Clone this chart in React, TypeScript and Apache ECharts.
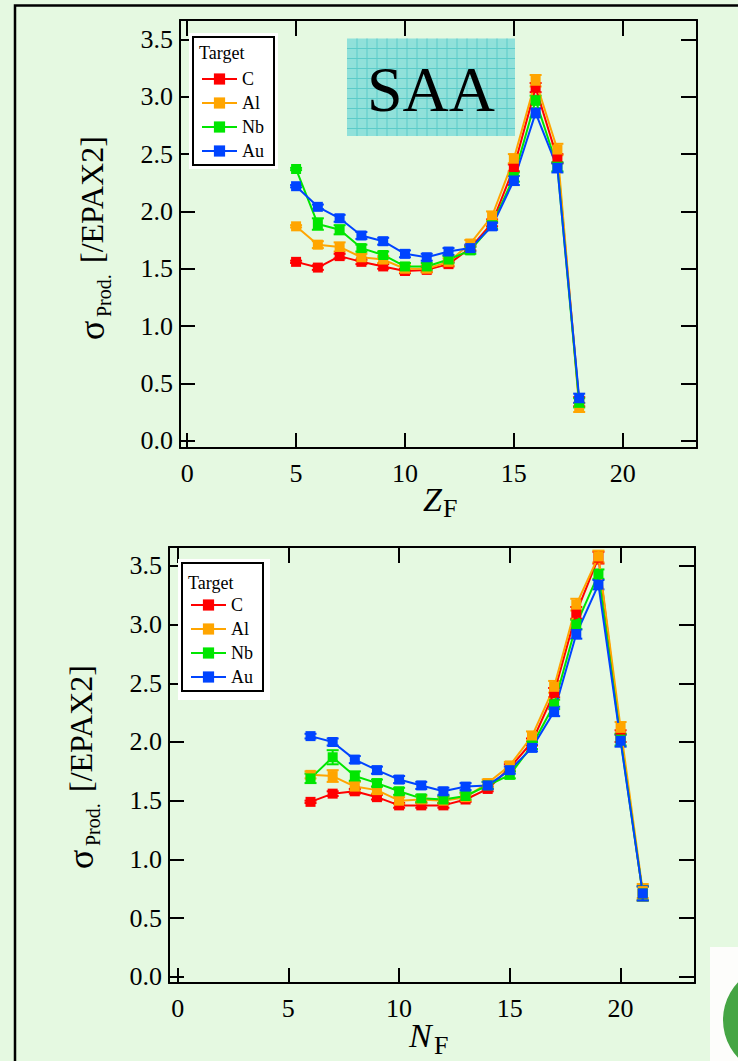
import React, { useEffect, useRef } from 'react';
import * as echarts from 'echarts';

// ---------- data ----------
const targets = ['C', 'Al', 'Nb', 'Au'];
const colors = ['#ff0000', '#ffa500', '#00e600', '#0044ff'];

const zValues = [5, 6, 7, 8, 9, 10, 11, 12, 13, 14, 15, 16, 17, 18];
const topC = [1.56, 1.51, 1.61, 1.56, 1.52, 1.48, 1.49, 1.54, 1.68, 1.9, 2.38, 3.08, 2.46, 0.34];
const topAl = [1.87, 1.71, 1.69, 1.6, 1.58, 1.5, 1.5, 1.56, 1.72, 1.96, 2.46, 3.14, 2.54, 0.29];
const topNb = [2.37, 1.89, 1.84, 1.68, 1.62, 1.52, 1.52, 1.58, 1.66, 1.88, 2.3, 2.97, 2.39, 0.33];
const topAu = [2.22, 2.04, 1.94, 1.79, 1.74, 1.63, 1.6, 1.65, 1.68, 1.87, 2.27, 2.86, 2.38, 0.37];
const topErrC = [0.01, 0.02, 0.02, 0.02, 0.02, 0.02, 0.02, 0.02, 0.02, 0.03, 0.03, 0.04, 0.04, 0.04];
const topErrAl = [0.01, 0.03, 0.04, 0.03, 0.03, 0.03, 0.03, 0.03, 0.03, 0.04, 0.04, 0.05, 0.05, 0.04];
const topErrNb = [0.01, 0.05, 0.04, 0.03, 0.03, 0.03, 0.03, 0.03, 0.03, 0.03, 0.04, 0.04, 0.04, 0.04];
const topErrAu = [0.01, 0.02, 0.03, 0.03, 0.03, 0.03, 0.03, 0.03, 0.03, 0.03, 0.04, 0.04, 0.04, 0.04];

const nValues = [6, 7, 8, 9, 10, 11, 12, 13, 14, 15, 16, 17, 18, 19, 20, 21];
const botC = [1.49, 1.56, 1.58, 1.53, 1.46, 1.46, 1.46, 1.51, 1.6, 1.78, 2.0, 2.42, 3.1, 3.57, 2.05, 0.71];
const botAl = [1.72, 1.71, 1.62, 1.59, 1.5, 1.51, 1.5, 1.53, 1.65, 1.8, 2.05, 2.47, 3.17, 3.58, 2.12, 0.73];
const botNb = [1.69, 1.87, 1.71, 1.65, 1.58, 1.52, 1.51, 1.54, 1.63, 1.72, 1.97, 2.32, 3.0, 3.43, 2.02, 0.71];
const botAu = [2.05, 2.0, 1.85, 1.76, 1.68, 1.63, 1.58, 1.62, 1.63, 1.76, 1.95, 2.26, 2.92, 3.34, 2.01, 0.71];
const botErrC = [0.01, 0.02, 0.02, 0.02, 0.02, 0.02, 0.02, 0.02, 0.02, 0.03, 0.03, 0.04, 0.05, 0.05, 0.05, 0.06];
const botErrAl = [0.03, 0.05, 0.04, 0.03, 0.03, 0.03, 0.03, 0.03, 0.03, 0.03, 0.04, 0.05, 0.05, 0.05, 0.05, 0.06];
const botErrNb = [0.04, 0.06, 0.04, 0.03, 0.03, 0.03, 0.03, 0.03, 0.03, 0.03, 0.03, 0.04, 0.04, 0.04, 0.05, 0.06];
const botErrAu = [0.02, 0.03, 0.03, 0.03, 0.03, 0.03, 0.03, 0.03, 0.03, 0.03, 0.03, 0.04, 0.04, 0.04, 0.05, 0.06];

const xTicks = [0, 5, 10, 15, 20];
const yTicks = [0, 0.5, 1.0, 1.5, 2.0, 2.5, 3.0, 3.5];

const SERIF = 'Liberation Serif';

function errData(xs: number[], ys: number[], es: number[]) {
  return xs.map((x, i) => [x, ys[i] - es[i], ys[i] + es[i]]);
}

const makeErr = (color: string) => (params: any, api: any) => {
  const x = api.value(0);
  const a = api.coord([x, api.value(1)]);
  const b = api.coord([x, api.value(2)]);
  const hw = 6;
  const st = { stroke: color, lineWidth: 2 };
  return {
    type: 'group',
    children: [
      { type: 'line', shape: { x1: a[0], y1: a[1], x2: b[0], y2: b[1] }, style: st },
      { type: 'line', shape: { x1: a[0] - hw, y1: a[1], x2: a[0] + hw, y2: a[1] }, style: st },
      { type: 'line', shape: { x1: b[0] - hw, y1: b[1], x2: b[0] + hw, y2: b[1] }, style: st },
    ],
  };
};

function axesFor(grid: number, xmin: number, xmax: number, ymin: number, ymax: number) {
  const line = { show: true, onZero: false, lineStyle: { color: '#000', width: 2 } };
  const rich = { s: { fontFamily: SERIF, fontSize: 26, color: '#000' } };
  const label = { fontFamily: SERIF, fontSize: 26, color: '#000', rich };
  const xAxes = [
    {
      type: 'value', gridIndex: grid, position: 'bottom', min: xmin, max: xmax,
      axisLine: line, splitLine: { show: false },
      axisTick: { show: true, inside: true, length: 15, customValues: xTicks, lineStyle: { color: '#000', width: 2 } },
      axisLabel: { ...label, margin: 12, customValues: xTicks, formatter: (v: number) => '{s|' + String(v) + '}' },
    },
    {
      type: 'value', gridIndex: grid, position: 'top', min: xmin, max: xmax,
      axisLine: line, splitLine: { show: false },
      axisTick: { show: true, inside: true, length: 16, customValues: xTicks, lineStyle: { color: '#000', width: 2 } },
      axisLabel: { show: false },
    },
  ];
  const yAxes = [
    {
      type: 'value', gridIndex: grid, position: 'left', min: ymin, max: ymax,
      axisLine: line, splitLine: { show: false },
      axisTick: { show: true, inside: true, length: 15, customValues: yTicks, lineStyle: { color: '#000', width: 2 } },
      axisLabel: { ...label, margin: 7, customValues: yTicks, formatter: (v: number) => '{s|' + v.toFixed(1) + '}' },
    },
    {
      type: 'value', gridIndex: grid, position: 'right', min: ymin, max: ymax,
      axisLine: line, splitLine: { show: false },
      axisTick: { show: true, inside: true, length: 16, customValues: yTicks, lineStyle: { color: '#000', width: 2 } },
      axisLabel: { show: false },
    },
  ];
  return { xAxes, yAxes };
}

function seriesFor(axisIdx: number, xs: number[], vals: number[][], errs: number[][]) {
  const out: any[] = [];
  targets.forEach((t, k) => {
    out.push({
      type: 'custom', name: t + ' err', xAxisIndex: axisIdx, yAxisIndex: axisIdx,
      renderItem: makeErr(colors[k]), encode: { x: 0, y: [1, 2] },
      data: errData(xs, vals[k], errs[k]), silent: true, clip: false,
    });
    out.push({
      type: 'line', name: t, xAxisIndex: axisIdx, yAxisIndex: axisIdx,
      data: xs.map((x, i) => [x, vals[k][i]]),
      symbol: 'rect', symbolSize: 10, showAllSymbol: true,
      itemStyle: { color: colors[k] }, lineStyle: { color: colors[k], width: 2 },
    });
  });
  return out;
}

function yTitle(x0: number, y0: number) {
  const t = (text: string, lx: number, ly: number, size: number) => ({
    type: 'text', x: lx, y: ly,
    style: { text, fontFamily: SERIF, fontSize: size, fill: '#000', align: 'left', verticalAlign: 'middle' },
  });
  return {
    type: 'group', x: x0, y: y0, rotation: Math.PI / 2, z: 10,
    children: [t('σ', 0, 0, 36), t('Prod.', 23, 12, 20), t('[/EPAX2]', 77, 0, 32)],
  };
}

function legendFor(left: number, top: number) {
  return {
    data: targets, orient: 'vertical', left, top,
    padding: [33, 10, 5, 8], itemGap: 6, itemWidth: 35, itemHeight: 14, itemTextGap: 9,
    backgroundColor: '#fff', borderColor: '#000', borderWidth: 2, borderRadius: 0,
    textStyle: { fontFamily: SERIF, fontSize: 18, color: '#000' },
    selectedMode: false,
  };
}

export default function App() {
  const ref = useRef<HTMLDivElement>(null);
  useEffect(() => {
    if (!ref.current) return;
    const chart = echarts.init(ref.current, undefined, { renderer: 'svg' });
    const a0 = axesFor(0, -0.33, 23.41, -0.064, 3.67);
    const a1 = axesFor(1, -0.39, 23.36, -0.053, 3.661);

    const saaLines: any[] = [];
    for (let i = 1; i < 17; i++) {
      saaLines.push({ type: 'line', z: 3, shape: { x1: 347 + i * 10, y1: 38.5, x2: 347 + i * 10, y2: 136 }, style: { stroke: '#5ccbc9', lineWidth: 1 } });
    }
    for (let j = 1; j < 10; j++) {
      saaLines.push({ type: 'line', z: 3, shape: { x1: 347, y1: 38.5 + j * 10, x2: 515, y2: 38.5 + j * 10 }, style: { stroke: '#5ccbc9', lineWidth: 1 } });
    }

    const option: any = {
      animation: false,
      backgroundColor: '#e5f9e1',
      textStyle: { fontFamily: SERIF },
      grid: [
        { left: 180, top: 20, width: 517, height: 428 },
        { left: 169, top: 547, width: 526, height: 436 },
      ],
      xAxis: [...a0.xAxes, ...a1.xAxes],
      yAxis: [...a0.yAxes, ...a1.yAxes],
      legend: [legendFor(193, 37), legendFor(182, 563)],
      series: [
        ...seriesFor(0, zValues, [topC, topAl, topNb, topAu], [topErrC, topErrAl, topErrNb, topErrAu]),
        ...seriesFor(2, nValues, [botC, botAl, botNb, botAu], [botErrC, botErrAl, botErrNb, botErrAu]),
      ],
      graphic: [
        { type: 'polyline', z: 10, shape: { points: [[15, 1061], [15, 5.5], [738, 5.5]] }, style: { stroke: '#000', lineWidth: 2.5, fill: 'none' } },
        { type: 'rect', z: 3, shape: { x: 347, y: 38.5, width: 168, height: 97.5 }, style: { fill: '#90e1da' } },
        ...saaLines,
        { type: 'text', z: 4, x: 431, y: 89.5, style: { text: 'SAA', fontFamily: SERIF, fontSize: 64, fill: '#000', align: 'center', verticalAlign: 'middle' } },
        { type: 'rect', z: 3, shape: { x: 189, y: 33, width: 89, height: 136 }, style: { fill: '#fff' } },
        { type: 'rect', z: 3, shape: { x: 178, y: 559, width: 92, height: 141 }, style: { fill: '#fff' } },
        { type: 'text', z: 10, x: 199, y: 53, style: { text: 'Target', fontFamily: SERIF, fontSize: 18, fill: '#000', align: 'left', verticalAlign: 'middle' } },
        { type: 'text', z: 10, x: 188, y: 583, style: { text: 'Target', fontFamily: SERIF, fontSize: 18, fill: '#000', align: 'left', verticalAlign: 'middle' } },
        yTitle(92, 340),
        yTitle(81, 869),
        { type: 'text', z: 10, x: 423, y: 499.5, style: { text: 'Z', fontFamily: SERIF, fontStyle: 'italic', fontSize: 34, fill: '#000', align: 'left', verticalAlign: 'middle' } },
        { type: 'text', z: 10, x: 443, y: 508, style: { text: 'F', fontFamily: SERIF, fontSize: 26, fill: '#000', align: 'left', verticalAlign: 'middle' } },
        { type: 'text', z: 10, x: 409, y: 1035.5, style: { text: 'N', fontFamily: SERIF, fontStyle: 'italic', fontSize: 34, fill: '#000', align: 'left', verticalAlign: 'middle' } },
        { type: 'text', z: 10, x: 434, y: 1045, style: { text: 'F', fontFamily: SERIF, fontSize: 26, fill: '#000', align: 'left', verticalAlign: 'middle' } },
        { type: 'rect', z: 10, shape: { x: 710, y: 947, width: 28, height: 114 }, style: { fill: '#fdfdfb' } },
        { type: 'circle', z: 11, shape: { cx: 778, cy: 1020, r: 55 }, style: { fill: '#45a544' } },
      ],
    };
    chart.setOption(option);
    return () => chart.dispose();
  }, []);
  return (
    <div
      ref={ref}
      style={{ position: 'fixed', left: 0, top: 0, width: 738, height: 1061 }}
    />
  );
}
